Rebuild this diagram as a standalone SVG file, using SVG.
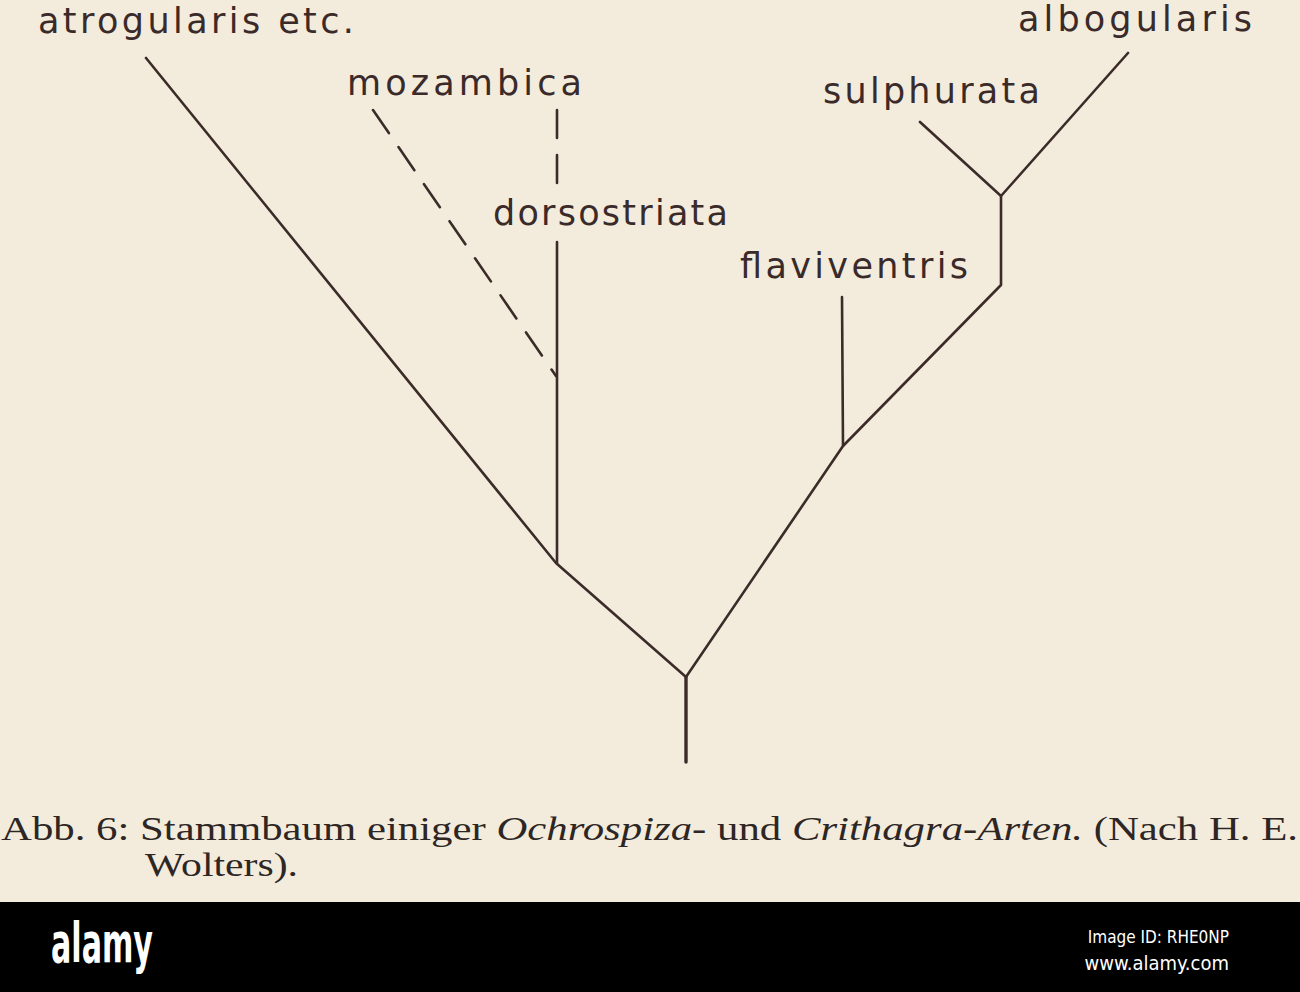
<svg xmlns="http://www.w3.org/2000/svg" width="1300" height="992" viewBox="0 0 1300 992">
<style>
.ln{stroke:#3b2b29;stroke-width:2.6;fill:none;stroke-linecap:round;stroke-linejoin:round}
.ds{stroke-dasharray:28 17}
.lb{font-family:"DejaVu Sans",sans-serif;font-size:35px;fill:#3a2a29}
.cap{font-family:"Liberation Serif",serif;font-size:33px;fill:#2e2624}
.it{font-style:italic}
</style>
<rect x="0" y="0" width="1300" height="992" fill="#f3ecdc"/>
<g id="connectors">
<polyline class="ln" points="146,58 556,563 686,677"/>
<polyline class="ln ds" points="373,110 556,376"/>
<line class="ln ds" x1="557" y1="110" x2="557" y2="190"/>
<line class="ln" x1="557" y1="242" x2="557" y2="563"/>
<polyline class="ln" points="686,677 843,446 1001,285 1001,196"/>
<line class="ln" x1="842" y1="297" x2="843" y2="446"/>
<polyline class="ln" points="920,122 1001,196 1128,53"/>
<line class="ln" x1="686" y1="677" x2="686" y2="762" style="stroke-width:3.4"/>
</g>
<g id="atrogularis"><text class="lb" x="38" y="33" textLength="316" lengthAdjust="spacing">atrogularis etc.</text></g>
<g id="mozambica"><text class="lb" x="347" y="95" textLength="235" lengthAdjust="spacing">mozambica</text></g>
<g id="dorsostriata"><text class="lb" x="493" y="225" textLength="235" lengthAdjust="spacing">dorsostriata</text></g>
<g id="flaviventris"><text class="lb" x="740" y="278" textLength="228" lengthAdjust="spacing">flaviventris</text></g>
<g id="sulphurata"><text class="lb" x="823" y="103" textLength="217" lengthAdjust="spacing">sulphurata</text></g>
<g id="albogularis"><text class="lb" x="1018" y="31" textLength="234" lengthAdjust="spacing">albogularis</text></g>
<g id="caption">
<text class="cap" x="1" y="840" textLength="1297" lengthAdjust="spacingAndGlyphs">Abb. 6: Stammbaum einiger <tspan class="it">Ochrospiza-</tspan> und <tspan class="it">Crithagra-Arten.</tspan> (Nach H. E.</text>
<text class="cap" x="145" y="876" textLength="153" lengthAdjust="spacingAndGlyphs">Wolters).</text>
</g>
<g id="banner">
<rect x="0" y="902" width="1300" height="90" fill="#000"/>
<text x="51" y="962" font-family="'DejaVu Sans Condensed','DejaVu Sans',sans-serif" font-weight="bold" font-size="56" fill="#fff" textLength="102" lengthAdjust="spacingAndGlyphs">alamy</text>
<text x="1229" y="943" text-anchor="end" font-family="'DejaVu Sans Condensed','DejaVu Sans',sans-serif" font-size="17" fill="#fff">Image ID: RHE0NP</text>
<text x="1229" y="970" text-anchor="end" font-family="'DejaVu Sans Condensed','DejaVu Sans',sans-serif" font-size="20" fill="#fff">www.alamy.com</text>
</g>
</svg>
